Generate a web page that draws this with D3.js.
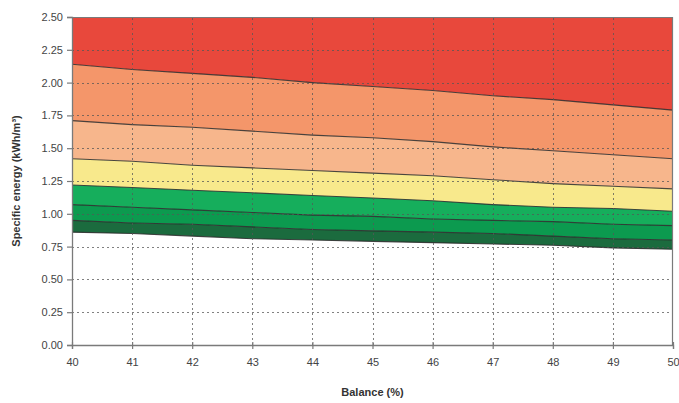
<!DOCTYPE html>
<html>
<head>
<meta charset="utf-8">
<script src="https://cdn.jsdelivr.net/npm/d3@7"></script>
<style>
  html, body { margin: 0; padding: 0; background: #fff; }
  svg { display: block; }
  text { font-family: "Liberation Sans", Arial, sans-serif; }
</style>
</head>
<body>
<svg id="chart" width="679" height="403"></svg>
<script>
// Balance (%) along the x axis
const balance = [40, 41, 42, 43, 44, 45, 46, 47, 48, 49, 50];

// Band boundaries, specific energy (kWh/m³), top to bottom
const boundary1 = [2.14, 2.10, 2.07, 2.04, 2.00, 1.97, 1.94, 1.90, 1.87, 1.83, 1.79];
const boundary2 = [1.71, 1.68, 1.66, 1.63, 1.60, 1.58, 1.55, 1.51, 1.48, 1.45, 1.42];
const boundary3 = [1.42, 1.40, 1.37, 1.35, 1.33, 1.31, 1.29, 1.26, 1.23, 1.21, 1.19];
const boundary4 = [1.22, 1.20, 1.18, 1.16, 1.14, 1.12, 1.10, 1.07, 1.05, 1.04, 1.02];
const boundary5 = [1.07, 1.05, 1.03, 1.01, 0.99, 0.98, 0.96, 0.95, 0.94, 0.92, 0.91];
const boundary6 = [0.95, 0.93, 0.92, 0.90, 0.88, 0.87, 0.86, 0.85, 0.83, 0.81, 0.80];
const boundary7 = [0.86, 0.85, 0.83, 0.81, 0.80, 0.79, 0.78, 0.77, 0.76, 0.74, 0.73];

const yMax = 2.5;
const yTicks = [0, 0.25, 0.5, 0.75, 1.0, 1.25, 1.5, 1.75, 2.0, 2.25, 2.5];
const xTicks = [40, 41, 42, 43, 44, 45, 46, 47, 48, 49, 50];

const bandColors = ["#e8483c", "#f4966a", "#f7b68c", "#f8e98c", "#16ae5c", "#0c9a4f", "#1b6b3e"];

const svg = d3.select("#chart");
const margin = { left: 72, right: 6, top: 17, bottom: 58 };
const W = 679, H = 403;

const x = d3.scaleLinear().domain([40, 50]).range([margin.left, W - margin.right]);
const y = d3.scaleLinear().domain([0, yMax]).range([H - margin.bottom, margin.top]);

// Stack of boundaries: band i lies between bounds[i] and bounds[i+1]
const topLine = balance.map(() => yMax);
const bounds = [topLine, boundary1, boundary2, boundary3, boundary4, boundary5, boundary6, boundary7];

const area = d3.area()
  .x((d, i) => x(balance[i]))
  .y0(d => y(d[1]))
  .y1(d => y(d[0]));

const bands = svg.append("g");
for (let b = 0; b < bounds.length - 1; b++) {
  const pairs = balance.map((_, i) => [bounds[b][i], bounds[b + 1][i]]);
  bands.append("path")
    .attr("d", area(pairs))
    .attr("fill", bandColors[b]);
}

// Boundary lines
const line = d3.line().x((d, i) => x(balance[i])).y(d => y(d));
for (let b = 1; b < bounds.length; b++) {
  bands.append("path")
    .attr("d", line(bounds[b]))
    .attr("fill", "none")
    .attr("stroke", "#2a2a2a")
    .attr("stroke-width", 1.1)
    .attr("stroke-opacity", 0.85);
}

// Dotted grid
const grid = svg.append("g").attr("stroke", "#555").attr("stroke-width", 1)
  .attr("stroke-dasharray", "2,3").attr("stroke-opacity", 0.75);
yTicks.slice(1, -1).forEach(t => {
  grid.append("line")
    .attr("x1", x(40)).attr("x2", x(50))
    .attr("y1", Math.round(y(t)) + 0.5).attr("y2", Math.round(y(t)) + 0.5);
});
xTicks.slice(1, -1).forEach(t => {
  grid.append("line")
    .attr("y1", y(0)).attr("y2", y(yMax))
    .attr("x1", Math.round(x(t)) + 0.5).attr("x2", Math.round(x(t)) + 0.5);
});

// Plot frame (top and right edges)
svg.append("path")
  .attr("d", `M${x(40)},${y(yMax) + 0.5}H${x(50) - 0.5}V${y(0)}`)
  .attr("fill", "none").attr("stroke", "#7a7a7a").attr("stroke-width", 1.2);

// Axes
const yAxis = d3.axisLeft(y).tickValues(yTicks).tickFormat(d3.format(".2f")).tickSize(5).tickPadding(4);
const xAxis = d3.axisBottom(x).tickValues(xTicks).tickFormat(d3.format("d")).tickSize(4).tickPadding(9);

const gy = svg.append("g").attr("transform", `translate(${x(40)},0)`).call(yAxis);
const gx = svg.append("g").attr("transform", `translate(0,${y(0)})`).call(xAxis);

[gx, gy].forEach(g => {
  g.selectAll("path.domain").attr("stroke", "#7a7a7a").attr("stroke-width", 1.3);
  g.selectAll(".tick line").attr("stroke", "#7a7a7a").attr("stroke-width", 1.2);
  g.selectAll("text").attr("fill", "#444").attr("font-size", 11)
    .attr("font-family", "'Liberation Sans', Arial, sans-serif");
});
// x ticks cross the axis line
gx.selectAll(".tick line").attr("y1", -3).attr("y2", 4);

// Axis titles
svg.append("text")
  .attr("x", (x(40) + x(50)) / 2).attr("y", 396)
  .attr("text-anchor", "middle")
  .attr("font-size", 11).attr("font-weight", "bold").attr("fill", "#333")
  .text("Balance (%)");

svg.append("text")
  .attr("transform", `translate(20,${(y(0) + y(yMax)) / 2}) rotate(-90)`)
  .attr("text-anchor", "middle")
  .attr("font-size", 11).attr("font-weight", "bold").attr("fill", "#333")
  .text("Specific energy (kWh/m³)");
</script>
</body>
</html>
